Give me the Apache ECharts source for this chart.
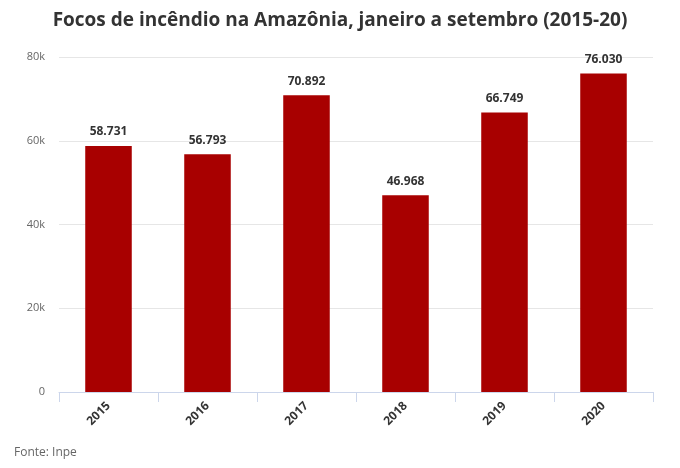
<!DOCTYPE html>
<html><head><meta charset="utf-8">
<script src="https://cdn.jsdelivr.net/npm/echarts@6/dist/echarts.min.js"></script>
<style>html,body{margin:0;padding:0;background:#fff}#c{width:680px;height:468px}</style>
</head><body><div id="c"></div>
<script>
var categories = ['2015','2016','2017','2018','2019','2020'];
var focos = [58731, 56793, 70892, 46968, 66749, 76030];
var yTicks = [0, 20000, 40000, 60000, 80000];

var chart = echarts.init(document.getElementById('c'), null, {renderer:'canvas'});
function fmtPt(v){ return v.toLocaleString('de-DE'); }
chart.setOption({
  animation:false,
  title:{ text:'Focos de incêndio na Amazônia, janeiro a setembro (2015-20)', left:'center', top:6,
    textStyle:{ fontFamily:'Open Sans', fontSize:19, fontWeight:'bold', color:'#333' } },
  graphic:[{ type:'text', left:14, top:447, style:{ text:'Fonte: Inpe', font:'12px "Open Sans"', fill:'#666' } }],
  grid:{ left:59, right:27, top:57, bottom:76 },
  xAxis:{ type:'category', data:categories,
    axisLine:{ lineStyle:{ color:'#ccd6eb' } },
    axisTick:{ show:true, length:10, lineStyle:{ color:'#ccd6eb' } },
    axisLabel:{ rotate:45, color:'#333', fontFamily:'Open Sans', fontSize:12, fontWeight:'bold', margin:12 } },
  yAxis:{ type:'value', min:yTicks[0], max:yTicks[yTicks.length-1], interval:20000,
    axisLine:{ show:false }, axisTick:{ show:false },
    splitLine:{ lineStyle:{ color:'#e6e6e6' } },
    axisLabel:{ color:'#666', fontFamily:'Open Sans', fontSize:11, margin:14,
      formatter:function(v){ return v===0 ? '0' : (v/1000)+'k'; } } },
  series:[{ type:'bar', data:focos, barWidth:'47%',
    itemStyle:{ color:'#a80000' },
    label:{ show:true, position:'top', distance:8, color:'#333', fontFamily:'Open Sans', fontSize:12, fontWeight:'bold',
      formatter:function(p){ return fmtPt(p.value); } } }]
});
</script></body></html>
